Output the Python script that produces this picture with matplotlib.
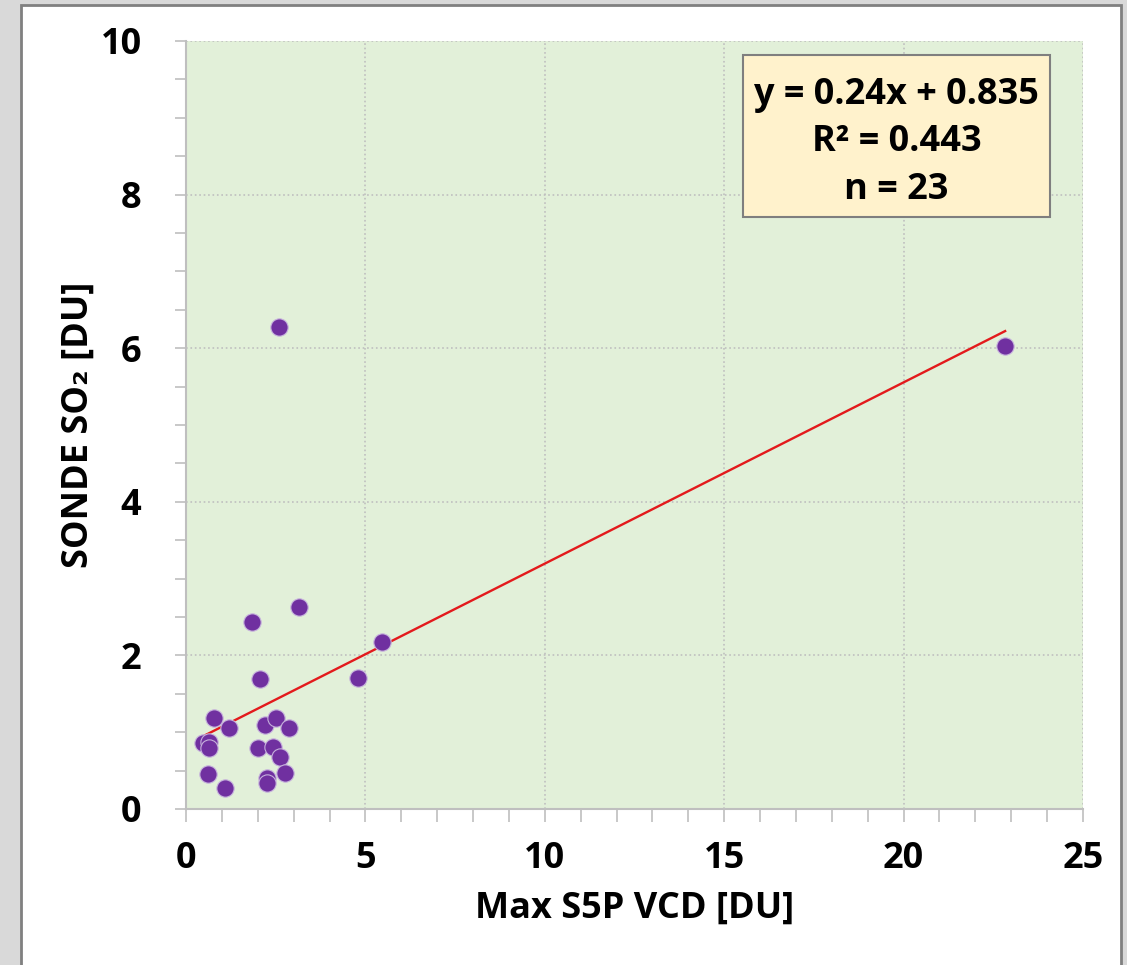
import matplotlib
matplotlib.use("Agg")
import matplotlib.pyplot as plt
import matplotlib.ticker as mticker
from matplotlib.patches import Rectangle
import numpy as np

# data
s5p_vcd = [2.06, 4.78, 5.45, 0.78, 1.20, 2.20, 2.51, 2.88, 0.48, 0.65, 0.65,
           2.01, 2.43, 2.62, 0.60, 1.10, 2.27, 2.27, 2.77, 2.59, 1.85, 3.14, 22.83]
sonde_so2 = [1.69, 1.70, 2.17, 1.19, 1.06, 1.10, 1.18, 1.06, 0.86, 0.87, 0.79,
             0.80, 0.81, 0.68, 0.45, 0.27, 0.41, 0.34, 0.47, 6.28, 2.43, 2.63, 6.03]
slope = 0.236      # shown rounded as 0.24
intercept = 0.835
r2 = 0.443

plt.rcParams['font.family'] = ['Open Sans', 'DejaVu Sans']
plt.rcParams['font.weight'] = 'bold'

fig = plt.figure(figsize=(11.27, 9.65), dpi=100, facecolor='#d9d9d9')
fig.patches.append(Rectangle((21/1127, -0.01), 1100/1127, 1.01 - 5/965,
                             transform=fig.transFigure, facecolor='white',
                             edgecolor='#808080', lw=2, zorder=-5))

ax = fig.add_axes([186/1127, 156/965, 897/1127, 768/965])
ax.set_facecolor('#e2f0d9')

x = np.array(s5p_vcd)
y = np.array(sonde_so2)
ax.scatter(x, y, s=155, color='#7030a0', edgecolors='#c5b0dc', linewidths=0.8, zorder=3)

xf = np.array([x.min() - 0.1, x.max()])
ax.plot(xf, slope * xf + intercept, color='#e31a1c', lw=1.7, zorder=2)

ax.set_xlim(0, 25)
ax.set_ylim(0, 10)
ax.xaxis.set_major_locator(mticker.MultipleLocator(5))
ax.xaxis.set_minor_locator(mticker.MultipleLocator(1))
ax.yaxis.set_major_locator(mticker.MultipleLocator(2))
ax.yaxis.set_minor_locator(mticker.MultipleLocator(0.5))
ax.grid(which='major', color='#bfbfbf', linestyle=':', lw=1.2)
ax.set_axisbelow(True)

for side in ['top', 'right']:
    ax.spines[side].set_visible(False)
for side in ['left', 'bottom']:
    ax.spines[side].set_color('#bfbfbf')
    ax.spines[side].set_linewidth(1.5)

ax.tick_params(axis='both', which='both', direction='out', color='#bfbfbf', width=1.2)
ax.tick_params(axis='x', which='both', length=9, pad=14)
ax.tick_params(axis='y', which='both', length=8, pad=24)
ax.tick_params(labelsize=26)

ax.set_xlabel('Max S5P VCD [DU]', fontsize=26, fontweight='bold', labelpad=10)
ax.set_ylabel('SONDE SO\u2082 [DU]', fontsize=26, fontweight='bold', labelpad=3)

# equation box
ax.add_patch(Rectangle((0.621, 0.771), 0.342, 0.211, transform=ax.transAxes,
                       facecolor='#fff2cc', edgecolor='#7f7f7f', lw=1.5, zorder=4))
lines = ['y = %.2fx + %.3f' % (slope, intercept), 'R\u00b2 = %.3f' % r2, 'n = %d' % len(x)]
for yy, txt in zip([0.930, 0.868, 0.806], lines):
    ax.text(0.792, yy, txt, transform=ax.transAxes, ha='center', va='center',
            fontsize=26, fontweight='bold', zorder=5)

fig.savefig('out.png', dpi=100, facecolor=fig.get_facecolor())
